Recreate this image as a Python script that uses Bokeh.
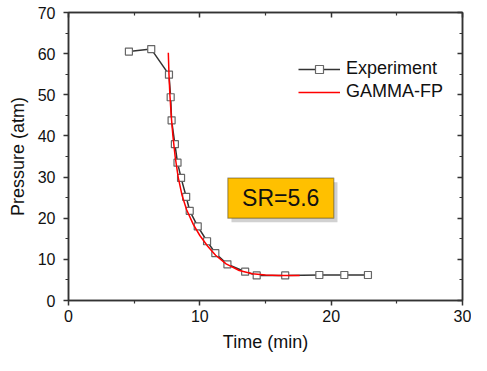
from bokeh.plotting import figure
from bokeh.models import (LinearAxis, Legend, LegendItem, Range1d, BoxAnnotation, Label,
                          FixedTicker, CustomJSTickFormatter)
from bokeh.embed import file_html
from bokeh.resources import INLINE

# Experiment data (time in min, pressure in atm)
exp_time = [4.6, 6.3, 7.65, 7.78, 7.85, 8.1, 8.3, 8.57, 8.96, 9.23, 9.84, 10.55,
            11.18, 12.1, 13.45, 14.33, 16.5, 19.1, 21.0, 22.8]
exp_pressure = [60.5, 61.1, 54.9, 49.4, 43.8, 38.0, 33.5, 29.8, 25.2, 21.8, 18.0, 14.4,
                11.5, 8.8, 7.0, 6.1, 6.1, 6.2, 6.2, 6.2]

# GAMMA-FP simulation curve
sim_time = [7.6, 7.65, 7.72, 7.82, 7.95, 8.12, 8.35, 8.65, 9.0, 9.5, 10.0, 10.6,
            11.2, 12.0, 13.0, 14.0, 15.0, 16.0, 17.6]
sim_pressure = [60.2, 55.0, 50.0, 45.0, 40.0, 35.0, 30.0, 25.5, 22.0, 18.5, 15.8, 13.2,
                11.0, 8.9, 7.3, 6.5, 6.2, 6.1, 6.1]

x_ticks = [0, 10, 20, 30]
x_minor = [5, 15, 25]
y_ticks = [0, 10, 20, 30, 40, 50, 60, 70]
y_minor = [5, 15, 25, 35, 45, 55, 65]
annotation_text = "SR=5.6"

FONT = "Liberation Sans"
INK = "#333333"

p = figure(width=471, height=355, output_backend="svg", toolbar_location=None,
           x_range=Range1d(0, 30), y_range=Range1d(0, 70),
           min_border_left=68, min_border_right=9, min_border_top=12, min_border_bottom=55,
           x_axis_label="Time (min)", y_axis_label="Pressure (atm)")
p.xgrid.visible = False
p.ygrid.visible = False
p.outline_line_color = INK
p.outline_line_width = 1.5


def style_axis(ax, ticks, minor, labels=True, inward=False):
    ax.ticker = FixedTicker(ticks=ticks, minor_ticks=minor)
    ax.axis_line_color = INK
    ax.axis_line_width = 1.5
    ax.major_tick_line_color = INK
    ax.minor_tick_line_color = INK
    ax.major_tick_line_width = 1.5
    ax.minor_tick_line_width = 1.2
    if inward:
        ax.major_tick_in, ax.major_tick_out = 5, 0
        ax.minor_tick_in, ax.minor_tick_out = 3, 0
    else:
        ax.major_tick_in, ax.major_tick_out = 0, 5
        ax.minor_tick_in, ax.minor_tick_out = 0, 3
    if labels:
        ax.major_label_text_font = FONT
        ax.major_label_text_font_size = "16px"
        ax.major_label_text_color = "#111111"
        ax.axis_label_text_font = FONT
        ax.axis_label_text_font_size = "18px"
        ax.axis_label_text_font_style = "normal"
        ax.axis_label_text_color = "#111111"
    else:
        ax.formatter = CustomJSTickFormatter(code="return ''")
        ax.major_label_standoff = 0


style_axis(p.xaxis[0], x_ticks, x_minor)
style_axis(p.yaxis[0], y_ticks, y_minor)
p.xaxis[0].major_label_standoff = 4
p.xaxis[0].axis_label_standoff = 7
p.yaxis[0].major_label_standoff = 8
p.yaxis[0].axis_label_standoff = 7

top = LinearAxis()
right = LinearAxis()
style_axis(top, x_ticks, x_minor, labels=False, inward=True)
style_axis(right, y_ticks, y_minor, labels=False, inward=True)
p.add_layout(top, "above")
p.add_layout(right, "right")

# Annotation box with shadow
shadow = BoxAnnotation(left=12.13 + 0.28, right=20.2 + 0.28, top=29.76 - 1.0, bottom=20.0 - 1.0,
                       fill_color="#999999", fill_alpha=0.45, line_alpha=0, level="underlay")
box = BoxAnnotation(left=12.13, right=20.2, top=29.76, bottom=20.0,
                    fill_color="#FFC000", fill_alpha=1.0, line_color="#111111", line_width=1.5)
p.add_layout(shadow)
p.add_layout(box)
p.add_layout(Label(x=16.16, y=24.9, text=annotation_text, text_font=FONT,
                   text_font_size="23px", text_align="center", text_baseline="middle",
                   text_color="#111111"))

exp_line = p.line(exp_time, exp_pressure, line_color=INK, line_width=1.5)
exp_pts = p.scatter(exp_time, exp_pressure, marker="square", size=7,
                    fill_color="white", line_color="#666666", line_width=1.2)
sim_line = p.line(sim_time, sim_pressure, line_color="#FF0000", line_width=1.5)

legend = Legend(items=[LegendItem(label="Experiment", renderers=[exp_line, exp_pts]),
                       LegendItem(label="GAMMA-FP", renderers=[sim_line])],
                location=(226, 194), border_line_alpha=0, background_fill_alpha=0,
                label_text_font=FONT, label_text_font_size="18px",
                label_text_color="#111111",
                glyph_width=42, label_standoff=6, spacing=2, padding=4, margin=0)
p.add_layout(legend, "center")

open("out.html", "w").write(file_html(p, INLINE))
